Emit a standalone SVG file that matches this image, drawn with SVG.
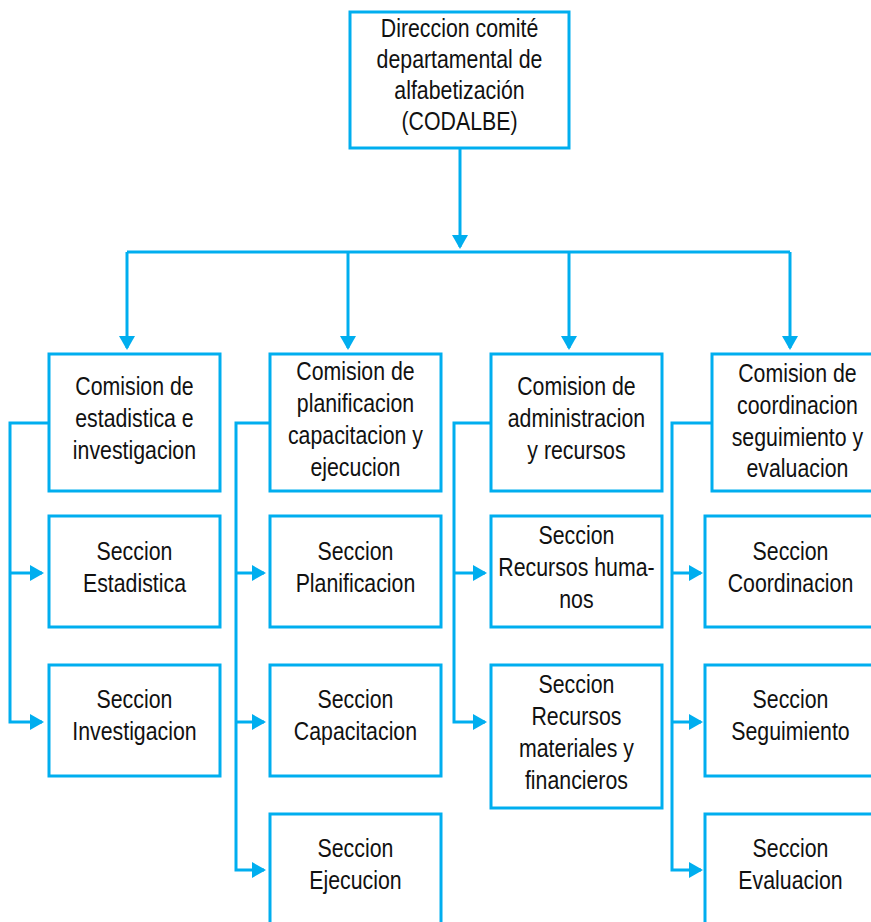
<svg xmlns="http://www.w3.org/2000/svg" width="871" height="922" viewBox="0 0 871 922">
<style>
.box{fill:#fff;stroke:#00AEEF;stroke-width:3}
.ln{fill:none;stroke:#00AEEF;stroke-width:3}
.t{font-family:"Liberation Sans",Arial,sans-serif;font-size:26px;fill:#111;text-anchor:middle}
</style>
<defs>
<marker id="ah" markerUnits="userSpaceOnUse" markerWidth="14" markerHeight="16" refX="12" refY="8" orient="auto" viewBox="0 0 14 16">
<path d="M0,0 L14,8 L0,16 z" fill="#00AEEF"/>
</marker>
</defs>
<g id="connectors">
<path class="ln" d="M460,148 V247" marker-end="url(#ah)"/>
<path class="ln" d="M127,252 H790"/>
<path class="ln" d="M127,252 V348" marker-end="url(#ah)"/>
<path class="ln" d="M348,252 V348" marker-end="url(#ah)"/>
<path class="ln" d="M569,252 V348" marker-end="url(#ah)"/>
<path class="ln" d="M790,252 V348" marker-end="url(#ah)"/>
<path class="ln" d="M49,423 H10 V722 H42" marker-end="url(#ah)"/>
<path class="ln" d="M10,573 H42" marker-end="url(#ah)"/>
<path class="ln" d="M270,423 H236 V870 H264" marker-end="url(#ah)"/>
<path class="ln" d="M236,573 H264" marker-end="url(#ah)"/>
<path class="ln" d="M236,722 H264" marker-end="url(#ah)"/>
<path class="ln" d="M491,423 H454 V722 H485" marker-end="url(#ah)"/>
<path class="ln" d="M454,573 H485" marker-end="url(#ah)"/>
<path class="ln" d="M712,423 H672 V870 H701" marker-end="url(#ah)"/>
<path class="ln" d="M672,573 H701" marker-end="url(#ah)"/>
<path class="ln" d="M672,722 H701" marker-end="url(#ah)"/>
</g>
<g id="direccion">
<rect class="box" x="350" y="12" width="219" height="136"/>
<g transform="scale(0.82 1)">
<text class="t" x="560.4" y="37">Direccion comité</text>
<text class="t" x="560.4" y="68">departamental de</text>
<text class="t" x="560.4" y="99">alfabetización</text>
<text class="t" x="560.4" y="130">(CODALBE)</text>
</g>
</g>
<g id="com-estadistica">
<rect class="box" x="49" y="354" width="171" height="137"/>
<g transform="scale(0.82 1)">
<text class="t" x="164" y="395">Comision de</text>
<text class="t" x="164" y="427">estadistica e</text>
<text class="t" x="164" y="459">investigacion</text>
</g>
</g>
<g id="com-planificacion">
<rect class="box" x="270" y="354" width="171" height="137"/>
<g transform="scale(0.82 1)">
<text class="t" x="433.5" y="380">Comision de</text>
<text class="t" x="433.5" y="412">planificacion</text>
<text class="t" x="433.5" y="444">capacitacion y</text>
<text class="t" x="433.5" y="476">ejecucion</text>
</g>
</g>
<g id="com-administracion">
<rect class="box" x="491" y="354" width="171" height="137"/>
<g transform="scale(0.82 1)">
<text class="t" x="703" y="395">Comision de</text>
<text class="t" x="703" y="427">administracion</text>
<text class="t" x="703" y="459">y recursos</text>
</g>
</g>
<g id="com-coordinacion">
<rect class="box" x="712" y="354" width="171" height="137"/>
<g transform="scale(0.82 1)">
<text class="t" x="972.5" y="382">Comision de</text>
<text class="t" x="972.5" y="414">coordinacion</text>
<text class="t" x="972.5" y="446">seguimiento y</text>
<text class="t" x="972.5" y="477">evaluacion</text>
</g>
</g>
<g id="sec-estadistica">
<rect class="box" x="49" y="516" width="171" height="111"/>
<g transform="scale(0.82 1)">
<text class="t" x="164" y="560">Seccion</text>
<text class="t" x="164" y="592">Estadistica</text>
</g>
</g>
<g id="sec-investigacion">
<rect class="box" x="49" y="665" width="171" height="111"/>
<g transform="scale(0.82 1)">
<text class="t" x="164" y="708">Seccion</text>
<text class="t" x="164" y="740">Investigacion</text>
</g>
</g>
<g id="sec-planificacion">
<rect class="box" x="270" y="516" width="171" height="111"/>
<g transform="scale(0.82 1)">
<text class="t" x="433.5" y="560">Seccion</text>
<text class="t" x="433.5" y="592">Planificacion</text>
</g>
</g>
<g id="sec-capacitacion">
<rect class="box" x="270" y="665" width="171" height="111"/>
<g transform="scale(0.82 1)">
<text class="t" x="433.5" y="708">Seccion</text>
<text class="t" x="433.5" y="740">Capacitacion</text>
</g>
</g>
<g id="sec-ejecucion">
<rect class="box" x="270" y="814" width="171" height="120"/>
<g transform="scale(0.82 1)">
<text class="t" x="433.5" y="857">Seccion</text>
<text class="t" x="433.5" y="889">Ejecucion</text>
</g>
</g>
<g id="sec-rrhh">
<rect class="box" x="491" y="516" width="171" height="111"/>
<g transform="scale(0.82 1)">
<text class="t" x="703" y="544">Seccion</text>
<text class="t" x="703" y="576">Recursos huma-</text>
<text class="t" x="703" y="608">nos</text>
</g>
</g>
<g id="sec-rrmm">
<rect class="box" x="491" y="665" width="171" height="143"/>
<g transform="scale(0.82 1)">
<text class="t" x="703" y="693">Seccion</text>
<text class="t" x="703" y="725">Recursos</text>
<text class="t" x="703" y="757">materiales y</text>
<text class="t" x="703" y="789">financieros</text>
</g>
</g>
<g id="sec-coordinacion">
<rect class="box" x="705" y="516" width="171" height="111"/>
<g transform="scale(0.82 1)">
<text class="t" x="964" y="560">Seccion</text>
<text class="t" x="964" y="592">Coordinacion</text>
</g>
</g>
<g id="sec-seguimiento">
<rect class="box" x="705" y="665" width="171" height="111"/>
<g transform="scale(0.82 1)">
<text class="t" x="964" y="708">Seccion</text>
<text class="t" x="964" y="740">Seguimiento</text>
</g>
</g>
<g id="sec-evaluacion">
<rect class="box" x="705" y="814" width="171" height="120"/>
<g transform="scale(0.82 1)">
<text class="t" x="964" y="857">Seccion</text>
<text class="t" x="964" y="889">Evaluacion</text>
</g>
</g>
</svg>
